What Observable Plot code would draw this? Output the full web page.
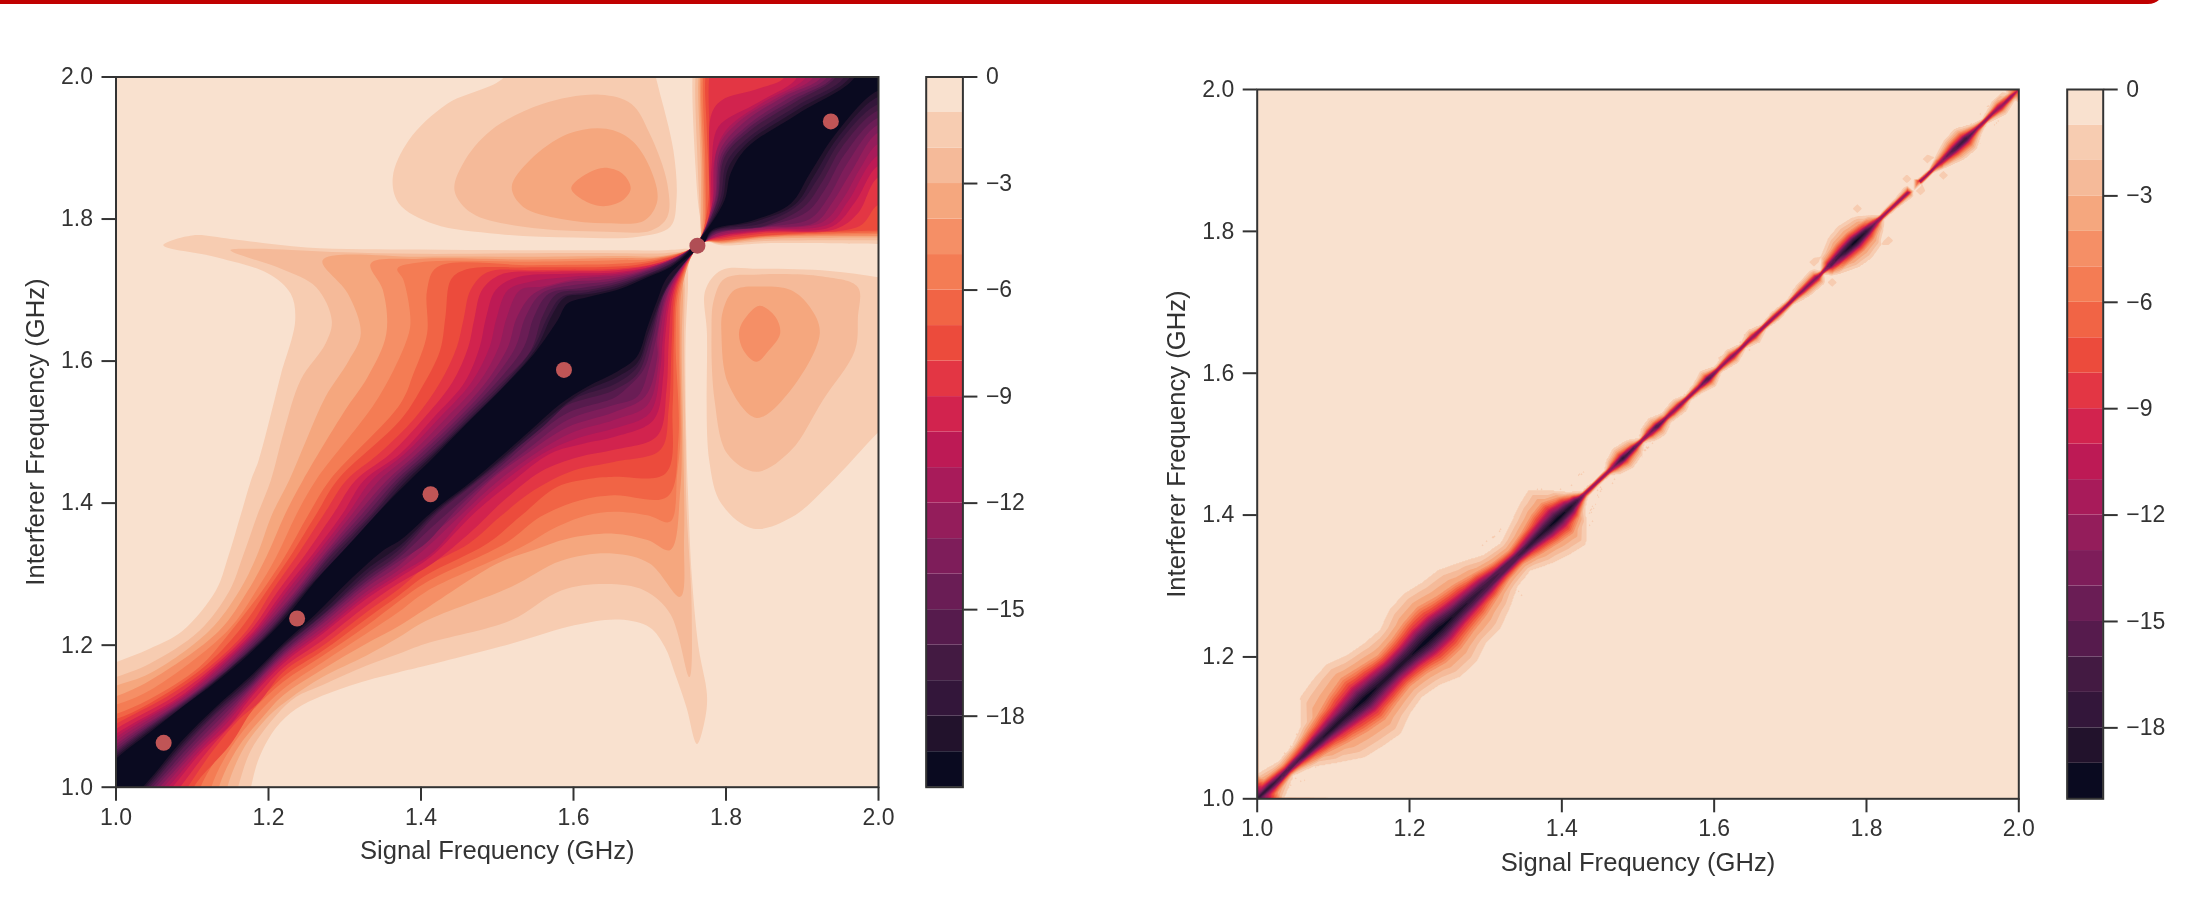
<!DOCTYPE html>
<html><head><meta charset="utf-8">
<script src="https://cdn.jsdelivr.net/npm/d3@7"></script>
<script src="https://cdn.jsdelivr.net/npm/@observablehq/plot@0.6"></script>
<style>
html,body{margin:0;padding:0;background:#fff;width:2210px;height:921px;overflow:hidden;position:relative}
.p{position:absolute;filter:blur(.45px)}
.p svg{overflow:visible;background:transparent}
#bar{position:absolute;left:-40px;top:-30px;width:2205px;height:34px;background:#c00000;border-radius:18px}
</style></head><body><div id="bar"></div>
<script>
const bandColors=["#0a0a20","#22122c","#33163a","#431a42","#561b4d","#6a1d55","#7e1d5a","#941d5b","#a81b5a","#bd1a55","#d2234e","#e33644","#ec4b3c","#f16445","#f47c54","#f58f66","#f5a77e","#f5ba99","#f7ccb1","#f9e1cf"];
const thresholds=[-20,-19,-18,-17,-16,-15,-14,-13,-12,-11,-10,-9,-8,-7,-6,-5,-4,-3,-2,-1];
const barTicks=[0,-3,-6,-9,-12,-15,-18];
const freqTicks=[1,1.2,1.4,1.6,1.8,2];
const toneCentres=[[1.0625,1.0625],[1.2375,1.2375],[1.4125,1.4125],[1.5875,1.5875],[1.9375,1.9375]];
const crossingTone=[[1.7625,1.7625]];

// left panel: outlines of the regions deeper than each level (x GHz, y GHz)
const NU=[[1.754,1.758],[1.766,1.772]], NL=[[1.772,1.768],[1.758,1.754]], C1=[.96,.96], C2=[2.04,2.04];
const line1=[[1,1.176],[1.044,1.195],[1.087,1.22],[1.131,1.277],[1.147,1.324],[1.164,1.385],[1.177,1.432],[1.187,1.46],[1.209,1.55],[1.2165,1.582],[1.235,1.657],[1.229,1.695],[1.2,1.723],[1.133,1.746],[1.062,1.763],[1.1,1.777],[1.15,1.772],[1.25,1.76],[1.4,1.757],[1.548,1.756],[1.66,1.756],[1.72,1.756],[1.748,1.758],...NU,[1.768,1.789],[1.764,1.817],[1.76,1.873],[1.756,2],[1.76,2.04],C2,[2.04,1.765],[2,1.765],[1.852,1.766],[1.794,1.763],...NL,[1.752,1.742],[1.75,1.7],[1.747,1.629],[1.748,1.488],[1.75,1.418],[1.755,1.3],[1.764,1.197],[1.775,1.131],[1.773,1.099],[1.762,1.061],[1.748,1.113],[1.733,1.16],[1.72,1.197],[1.7,1.225],[1.66,1.236],[1.601,1.228],[1.518,1.202],[1.406,1.171],[1.371,1.162],[1.328,1.15],[1.271,1.129],[1.236,1.11],[1.21,1.084],[1.188,1.042],[1.177,1],[1.17,.96],C1,[.96,1.16]];
const line2=[[1,1.155],[1.044,1.174],[1.109,1.22],[1.149,1.277],[1.166,1.324],[1.186,1.385],[1.203,1.432],[1.22,1.5],[1.242,1.573],[1.275,1.625],[1.283,1.657],[1.2625,1.704],[1.2165,1.73],[1.15,1.756],[1.183,1.758],[1.283,1.7535],[1.4,1.751],[1.548,1.752],[1.657,1.752],[1.72,1.752],...NU,[1.766,1.8],[1.763,1.873],[1.76,2],[1.765,2.04],C2,[2.04,1.77],[2,1.77],[1.852,1.769],[1.794,1.765],...NL,[1.747,1.737],[1.746,1.7],[1.745,1.63],[1.747,1.489],[1.748,1.4],[1.755,1.25],[1.752,1.155],[1.727,1.244],[1.693,1.277],[1.643,1.286],[1.584,1.277],[1.518,1.235],[1.406,1.202],[1.371,1.188],[1.328,1.171],[1.271,1.144],[1.236,1.127],[1.21,1.101],[1.177,1.052],[1.16,1],[1.15,.96],C1,[.96,1.14]];
const line3=[[1,1.143],[1.044,1.16],[1.122,1.22],[1.162,1.277],[1.184,1.324],[1.205,1.385],[1.227,1.432],[1.25,1.49],[1.275,1.55],[1.305,1.6],[1.321,1.6385],[1.304,1.695],[1.271,1.742],[1.4,1.747],[1.548,1.747],[1.657,1.748],[1.715,1.748],...NU,[1.767,1.79],[1.767,1.873],[1.764,2],[1.77,2.04],C2,[2.04,1.774],[2,1.774],[1.852,1.772],[1.794,1.766],...NL,[1.744,1.735],[1.744,1.7],[1.742,1.63],[1.744,1.489],[1.745,1.35],[1.74,1.268],[1.7,1.315],[1.651,1.329],[1.584,1.319],[1.518,1.282],[1.406,1.234],[1.371,1.211],[1.328,1.185],[1.271,1.155],[1.227,1.124],[1.201,1.101],[1.168,1.056],[1.146,1],[1.14,.96],C1,[.96,1.13]];
const line4=[[1,1.128],[1.044,1.15],[1.135,1.22],[1.173,1.277],[1.197,1.324],[1.222,1.385],[1.245,1.432],[1.3,1.53],[1.33,1.5775],[1.3545,1.6385],[1.35,1.7],[1.334,1.737],[1.4,1.744],[1.548,1.743],[1.657,1.745],[1.71,1.746],...NU,[1.769,1.79],[1.769,1.873],[1.766,2],[1.77,2.04],C2,[2.04,1.776],[2,1.776],[1.852,1.774],[1.794,1.767],...NL,[1.742,1.7],[1.74,1.63],[1.742,1.489],[1.74,1.418],[1.727,1.334],[1.697,1.348],[1.653,1.357],[1.592,1.35],[1.548,1.334],[1.5,1.315],[1.406,1.251],[1.371,1.227],[1.328,1.202],[1.271,1.166],[1.219,1.129],[1.192,1.098],[1.16,1.056],[1.135,1],[1.13,.96],C1,[.96,1.115]];
const line5=[[1,1.116],[1.044,1.136],[1.146,1.22],[1.184,1.277],[1.21,1.324],[1.237,1.385],[1.262,1.432],[1.345,1.55],[1.384,1.639],[1.386,1.662],[1.377,1.714],[1.369,1.73],[1.4,1.739],[1.548,1.74],[1.657,1.742],[1.705,1.744],...NU,[1.771,1.79],[1.771,1.873],[1.768,2],[1.775,2.04],C2,[2.04,1.779],[2,1.779],[1.852,1.775],[1.794,1.768],...NL,[1.74,1.7],[1.738,1.63],[1.74,1.489],[1.736,1.442],[1.727,1.374],[1.697,1.383],[1.653,1.388],[1.618,1.383],[1.579,1.367],[1.53,1.337],[1.406,1.275],[1.371,1.247],[1.328,1.216],[1.271,1.176],[1.219,1.138],[1.184,1.101],[1.151,1.056],[1.125,1],[1.12,.96],C1,[.96,1.105]];
const line6=[[1,1.103],[1.044,1.124],[1.109,1.169],[1.151,1.22],[1.192,1.277],[1.221,1.324],[1.253,1.385],[1.28,1.432],[1.373,1.54],[1.39,1.582],[1.408,1.639],[1.408,1.7],[1.421,1.732],[1.548,1.735],[1.657,1.737],[1.705,1.742],...NU,[1.772,1.79],[1.773,1.873],[1.77,2],[1.775,2.04],C2,[2.04,1.781],[2,1.781],[1.852,1.776],[1.794,1.769],...NL,[1.738,1.7],[1.734,1.63],[1.7375,1.489],[1.723,1.409],[1.653,1.411],[1.609,1.404],[1.557,1.381],[1.513,1.345],[1.406,1.288],[1.371,1.262],[1.328,1.227],[1.271,1.185],[1.219,1.148],[1.175,1.103],[1.142,1.056],[1.111,1],[1.105,.96],C1,[.96,1.09]];
const line7=[[1,1.096],[1.044,1.118],[1.115,1.169],[1.161,1.22],[1.198,1.277],[1.228,1.324],[1.263,1.385],[1.29,1.432],[1.373,1.517],[1.399,1.559],[1.425,1.615],[1.432,1.662],[1.439,1.714],[1.456,1.728],[1.548,1.732],[1.657,1.733],[1.705,1.74],...NU,[1.777,1.826],[1.775,1.92],[1.773,2],[1.78,2.04],C2,[2.04,1.784],[2,1.784],[1.852,1.777],[1.794,1.77],...NL,[1.736,1.7],[1.7316,1.63],[1.73,1.535],[1.721,1.442],[1.653,1.437],[1.627,1.435],[1.579,1.423],[1.53,1.381],[1.487,1.343],[1.406,1.298],[1.371,1.27],[1.328,1.237],[1.271,1.192],[1.219,1.155],[1.18,1.11],[1.15,1.06],[1.102,1],[1.09,.96],C1,[.96,1.085]];
const line8=[[1,1.089],[1.066,1.127],[1.122,1.169],[1.171,1.22],[1.205,1.277],[1.236,1.324],[1.273,1.385],[1.302,1.432],[1.345,1.47],[1.392,1.52],[1.425,1.57],[1.447,1.62],[1.456,1.66],[1.465,1.7],[1.487,1.725],[1.548,1.728],[1.657,1.73],[1.71,1.738],...NU,[1.775,1.79],[1.779,1.85],[1.778,1.93],[1.778,2],[1.785,2.04],C2,[2.04,1.82],[2,1.82],[1.975,1.79],[1.852,1.78],[1.794,1.772],...NL,[1.734,1.7],[1.729,1.63],[1.725,1.535],[1.714,1.475],[1.653,1.458],[1.6,1.446],[1.548,1.418],[1.504,1.381],[1.463,1.343],[1.406,1.31],[1.371,1.279],[1.328,1.246],[1.271,1.199],[1.219,1.162],[1.188,1.12],[1.162,1.096],[1.129,1.054],[1.094,1],[1.07,.96],C1,[.96,1.06]];
const line9=[[1,1.082],[1.075,1.127],[1.127,1.169],[1.176,1.22],[1.213,1.277],[1.246,1.324],[1.285,1.385],[1.314,1.432],[1.36,1.47],[1.404,1.52],[1.441,1.57],[1.462,1.62],[1.47,1.66],[1.48,1.7],[1.505,1.722],[1.57,1.726],[1.657,1.728],[1.712,1.738],...NU,[1.777,1.79],[1.778,1.873],[1.781,1.948],[1.794,1.967],[1.844,1.984],[1.877,2],[1.88,2.04],C2,[2.04,1.859],[2,1.859],[1.973,1.808],[1.944,1.786],[1.852,1.782],[1.794,1.774],...NL,[1.732,1.7],[1.725,1.63],[1.722,1.56],[1.71,1.495],[1.653,1.475],[1.607,1.465],[1.558,1.445],[1.51,1.405],[1.466,1.36],[1.415,1.315],[1.371,1.287],[1.328,1.255],[1.271,1.207],[1.219,1.168],[1.18,1.122],[1.155,1.092],[1.122,1.053],[1.084,1],[1.055,.96],C1,[.96,1.05]];
const line10=[[1,1.075],[1.083,1.127],[1.131,1.169],[1.181,1.22],[1.22,1.277],[1.255,1.324],[1.297,1.385],[1.325,1.432],[1.373,1.47],[1.416,1.52],[1.457,1.57],[1.477,1.62],[1.485,1.66],[1.498,1.7],[1.526,1.718],[1.592,1.723],[1.657,1.725],[1.715,1.737],...NU,[1.779,1.8],[1.781,1.873],[1.79,1.93],[1.835,1.96],[1.885,1.99],[1.893,2],[1.9,2.04],C2,[2.04,1.875],[2,1.875],[1.97,1.825],[1.94,1.79],[1.852,1.783],[1.794,1.776],...NL,[1.73,1.7],[1.72,1.63],[1.718,1.582],[1.705,1.517],[1.653,1.493],[1.614,1.484],[1.57,1.47],[1.517,1.428],[1.469,1.385],[1.423,1.334],[1.406,1.319],[1.371,1.295],[1.328,1.265],[1.271,1.216],[1.219,1.174],[1.175,1.124],[1.149,1.087],[1.114,1.052],[1.074,1],[1.04,.96],C1,[.96,1.04]];
const line11=[[1,1.07],[1.087,1.127],[1.135,1.169],[1.184,1.22],[1.225,1.277],[1.26,1.324],[1.304,1.385],[1.335,1.432],[1.379,1.47],[1.424,1.52],[1.466,1.57],[1.49,1.62],[1.499,1.66],[1.514,1.7],[1.545,1.712],[1.6,1.719],[1.665,1.724],[1.717,1.738],...NU,[1.781,1.81],[1.785,1.885],[1.8,1.925],[1.85,1.965],[1.905,2],[1.91,2.04],C2,[2.04,1.89],[2,1.89],[1.96,1.825],[1.935,1.793],[1.852,1.785],[1.794,1.777],...NL,[1.728,1.7],[1.717,1.63],[1.714,1.59],[1.7,1.527],[1.653,1.505],[1.607,1.492],[1.56,1.47],[1.508,1.43],[1.461,1.385],[1.415,1.33],[1.371,1.3],[1.328,1.27],[1.271,1.22],[1.219,1.178],[1.175,1.128],[1.145,1.09],[1.11,1.052],[1.068,1],[1.03,.96],C1,[.96,1.03]];
const line12=[[1,1.065],[1.09,1.127],[1.138,1.169],[1.187,1.22],[1.23,1.277],[1.265,1.324],[1.31,1.385],[1.345,1.432],[1.387,1.47],[1.433,1.52],[1.476,1.57],[1.502,1.62],[1.512,1.66],[1.53,1.7],[1.56,1.705],[1.6,1.715],[1.672,1.723],[1.72,1.739],...NU,[1.783,1.826],[1.789,1.9],[1.819,1.939],[1.869,1.972],[1.915,2],[1.92,2.04],C2,[2.04,1.906],[2,1.906],[1.977,1.873],[1.952,1.826],[1.927,1.796],[1.852,1.786],[1.794,1.779],...NL,[1.726,1.7],[1.713,1.63],[1.712,1.6],[1.697,1.538],[1.653,1.517],[1.6,1.5],[1.55,1.47],[1.5,1.43],[1.452,1.383],[1.407,1.337],[1.371,1.306],[1.328,1.275],[1.271,1.225],[1.219,1.182],[1.175,1.132],[1.142,1.092],[1.105,1.052],[1.062,1],[1.025,.96],C1,[.96,1.025]];
const line13=[[1,1.06],[1.094,1.127],[1.142,1.169],[1.19,1.22],[1.236,1.277],[1.27,1.324],[1.317,1.385],[1.355,1.432],[1.395,1.47],[1.443,1.52],[1.485,1.57],[1.514,1.62],[1.526,1.662],[1.548,1.695],[1.592,1.711],[1.635,1.714],[1.679,1.723],[1.723,1.74],...NU,[1.785,1.826],[1.792,1.896],[1.822,1.935],[1.875,1.972],[1.925,2],[1.93,2.04],C2,[2.04,1.922],[2,1.922],[1.965,1.868],[1.94,1.824],[1.917,1.795],[1.852,1.788],[1.79,1.78],...NL,[1.725,1.7],[1.71,1.63],[1.71,1.606],[1.694,1.55],[1.653,1.528],[1.592,1.507],[1.539,1.47],[1.491,1.432],[1.443,1.381],[1.399,1.341],[1.371,1.312],[1.328,1.281],[1.271,1.23],[1.219,1.185],[1.175,1.136],[1.14,1.094],[1.101,1.052],[1.057,1],[1.02,.96],C1,[.96,1.02]];
const line14=[[1,1.056],[1.096,1.127],[1.145,1.169],[1.193,1.22],[1.239,1.277],[1.273,1.324],[1.323,1.385],[1.361,1.432],[1.4,1.47],[1.449,1.52],[1.492,1.57],[1.524,1.62],[1.537,1.662],[1.558,1.695],[1.6,1.707],[1.645,1.712],[1.685,1.723],[1.724,1.739],...NU,[1.786,1.826],[1.794,1.892],[1.826,1.93],[1.882,1.97],[1.933,2],[1.94,2.04],C2,[2.04,1.933],[2,1.933],[1.96,1.88],[1.934,1.83],[1.91,1.8],[1.852,1.789],[1.788,1.78],...NL,[1.723,1.7],[1.708,1.63],[1.7,1.594],[1.684,1.55],[1.653,1.538],[1.592,1.517],[1.545,1.48],[1.497,1.44],[1.45,1.395],[1.406,1.343],[1.371,1.318],[1.328,1.286],[1.271,1.234],[1.219,1.188],[1.175,1.139],[1.137,1.097],[1.096,1.052],[1.052,1],[1.015,.96],C1,[.96,1.015]];
const line15=[[1,1.052],[1.098,1.127],[1.147,1.169],[1.197,1.22],[1.242,1.277],[1.277,1.324],[1.329,1.385],[1.367,1.432],[1.406,1.47],[1.454,1.52],[1.499,1.57],[1.535,1.62],[1.548,1.662],[1.568,1.695],[1.61,1.703],[1.65,1.71],[1.69,1.723],[1.725,1.738],...NU,[1.788,1.826],[1.796,1.889],[1.829,1.928],[1.888,1.968],[1.94,2],[1.945,2.04],C2,[2.04,1.943],[2,1.943],[1.955,1.89],[1.93,1.842],[1.906,1.81],[1.852,1.79],[1.786,1.781],...NL,[1.721,1.7],[1.704,1.63],[1.692,1.588],[1.668,1.56],[1.653,1.548],[1.592,1.527],[1.55,1.494],[1.503,1.45],[1.455,1.405],[1.413,1.365],[1.371,1.323],[1.328,1.29],[1.271,1.238],[1.219,1.191],[1.175,1.142],[1.134,1.1],[1.092,1.053],[1.048,1],[1.01,.96],C1,[.96,1.01]];
const line16=[[1,1.049],[1.1,1.127],[1.15,1.169],[1.2,1.22],[1.245,1.277],[1.28,1.324],[1.335,1.385],[1.372,1.432],[1.417,1.475],[1.46,1.521],[1.504,1.568],[1.544,1.615],[1.559,1.662],[1.579,1.695],[1.618,1.7],[1.657,1.709],[1.697,1.723],[1.727,1.737],...NU,[1.789,1.826],[1.798,1.887],[1.832,1.925],[1.894,1.967],[1.944,2],[1.95,2.04],C2,[2.04,1.953],[2,1.953],[1.952,1.901],[1.927,1.854],[1.902,1.817],[1.852,1.791],[1.785,1.782],...NL,[1.72,1.7],[1.701,1.63],[1.684,1.582],[1.653,1.559],[1.592,1.538],[1.557,1.51],[1.509,1.46],[1.465,1.423],[1.421,1.385],[1.371,1.328],[1.328,1.295],[1.271,1.242],[1.219,1.195],[1.175,1.145],[1.131,1.103],[1.087,1.054],[1.044,1],[1.005,.96],C1,[.96,1.005]];
const line17=[[1,1.046],[1.102,1.127],[1.151,1.169],[1.202,1.22],[1.247,1.277],[1.285,1.324],[1.338,1.385],[1.376,1.432],[1.415,1.47],[1.463,1.52],[1.51,1.57],[1.548,1.62],[1.566,1.662],[1.584,1.69],[1.618,1.697],[1.657,1.706],[1.697,1.722],[1.727,1.736],...NU,[1.792,1.826],[1.801,1.88],[1.83,1.915],[1.894,1.96],[1.955,2],[1.96,2.04],C2,[2.04,1.962],[2,1.962],[1.95,1.91],[1.92,1.856],[1.895,1.82],[1.848,1.794],[1.784,1.783],...NL,[1.721,1.7],[1.699,1.635],[1.684,1.592],[1.655,1.568],[1.6,1.546],[1.56,1.508],[1.508,1.462],[1.464,1.424],[1.42,1.387],[1.371,1.334],[1.328,1.3],[1.271,1.243],[1.219,1.197],[1.175,1.148],[1.131,1.106],[1.087,1.058],[1.041,1],[1.002,.96],C1,[.96,1.002]];
const line18=[[1,1.043],[1.104,1.127],[1.152,1.169],[1.204,1.22],[1.249,1.277],[1.29,1.324],[1.342,1.385],[1.381,1.432],[1.418,1.47],[1.466,1.52],[1.513,1.57],[1.552,1.62],[1.572,1.665],[1.589,1.69],[1.618,1.694],[1.657,1.703],[1.697,1.72],[1.727,1.734],...NU,[1.795,1.826],[1.803,1.872],[1.829,1.908],[1.894,1.954],[1.963,2],[1.97,2.04],C2,[2.04,1.972],[2,1.972],[1.947,1.915],[1.915,1.86],[1.89,1.82],[1.84,1.797],[1.782,1.783],...NL,[1.722,1.705],[1.698,1.64],[1.684,1.598],[1.656,1.577],[1.61,1.555],[1.556,1.51],[1.506,1.463],[1.462,1.424],[1.418,1.388],[1.372,1.34],[1.328,1.306],[1.271,1.248],[1.219,1.199],[1.175,1.152],[1.131,1.11],[1.087,1.062],[1.038,1],[1,.96],C1,[.96,1]];
const line19=[[1,1.04],[1.044,1.077],[1.087,1.113],[1.131,1.148],[1.175,1.188],[1.219,1.2345],[1.262,1.291],[1.306,1.342],[1.35,1.394],[1.385,1.432],[1.417,1.465],[1.46,1.512],[1.504,1.559],[1.548,1.61],[1.579,1.657],[1.592,1.681],[1.618,1.69],[1.657,1.7],[1.697,1.718],[1.727,1.732],[1.749,1.751],...NU,[1.798,1.826],[1.806,1.864],[1.827,1.9],[1.894,1.948],[1.969,2],[1.975,2.04],C2,[2.04,1.981],[2,1.981],[1.944,1.92],[1.91,1.864],[1.885,1.822],[1.835,1.798],[1.781,1.784],...NL,[1.723,1.718],[1.71,1.686],[1.697,1.648],[1.683,1.606],[1.657,1.585],[1.618,1.564],[1.583,1.54],[1.548,1.507],[1.504,1.465],[1.46,1.425],[1.417,1.39],[1.373,1.348],[1.35,1.333],[1.306,1.291],[1.262,1.244],[1.219,1.202],[1.175,1.155],[1.131,1.113],[1.087,1.066],[1.035,1],[.995,.96],C1,[.96,.995]];
const upperBlob1=[[1.509,2],[1.434,1.962],[1.384,1.911],[1.363,1.859],[1.371,1.822],[1.417,1.793],[1.501,1.779],[1.601,1.774],[1.685,1.775],[1.727,1.789],[1.735,1.826],[1.731,1.897],[1.708,2],[1.7,2.04],[1.52,2.04]];
const upperBlob2=[[1.635,1.975],[1.559,1.962],[1.492,1.925],[1.455,1.878],[1.444,1.84],[1.467,1.808],[1.534,1.789],[1.643,1.782],[1.702,1.784],[1.723,1.803],[1.723,1.85],[1.7,1.92],[1.676,1.962]];
const upperBlob3=[[1.643,1.927],[1.593,1.92],[1.543,1.883],[1.519,1.845],[1.534,1.817],[1.584,1.8],[1.643,1.794],[1.693,1.798],[1.71,1.826],[1.7,1.873],[1.676,1.911]];
const upperBlob4=[[1.639,1.872],[1.61,1.859],[1.597,1.843],[1.614,1.826],[1.639,1.818],[1.664,1.826],[1.675,1.843],[1.664,1.864]];
const rightBlob1=[[2,1.718],[1.936,1.727],[1.844,1.73],[1.794,1.728],[1.773,1.7],[1.775,1.639],[1.778,1.46],[1.794,1.399],[1.836,1.364],[1.886,1.38],[1.936,1.427],[2,1.5],[2.04,1.54],[2.04,1.71]];
const rightBlob2=[[1.844,1.722],[1.798,1.716],[1.784,1.686],[1.781,1.639],[1.785,1.545],[1.802,1.469],[1.84,1.444],[1.885,1.474],[1.927,1.545],[1.969,1.615],[1.973,1.662],[1.973,1.704],[1.927,1.719]];
const rightBlob3=[[1.848,1.705],[1.811,1.7],[1.796,1.671],[1.794,1.639],[1.803,1.568],[1.84,1.52],[1.881,1.554],[1.923,1.639],[1.91,1.676],[1.885,1.7]];
const rightBlob4=[[1.844,1.678],[1.823,1.657],[1.817,1.639],[1.823,1.615],[1.84,1.599],[1.856,1.615],[1.871,1.639],[1.865,1.662]];
const regions=[[-1,upperBlob1],[-1,rightBlob1],[-1,line1],[-2,upperBlob2],[-2,rightBlob2],[-2,line2],[-3,upperBlob3],[-3,rightBlob3],[-3,line3],[-4,upperBlob4],[-4,rightBlob4],[-4,line4],[-5,line5],[-6,line6],[-7,line7],[-8,line8],[-9,line9],[-10,line10],[-11,line11],[-12,line12],[-13,line13],[-14,line14],[-15,line15],[-16,line16],[-17,line17],[-18,line18],[-19,line19]];
const leftOutlines=regions.flatMap(([level,pts],id)=>pts.map(([x,y])=>({x,y,id,band:level-0.5})));

// right panel: along the diagonal, centre depth and half widths (1/1000 GHz) at depths -1,-4,-9,-15
const sectionS=[1.018,1.04,1.06,1.08,1.1,1.12,1.14,1.16,1.18,1.2,1.22,1.24,1.26,1.28,1.3,1.32,1.34,1.36,1.38,1.395,1.41,1.42,1.43,1.445,1.46,1.468,1.48,1.495,1.505,1.515,1.525,1.537,1.545,1.555,1.565,1.58,1.592,1.605,1.624,1.638,1.652,1.665,1.68,1.7,1.717,1.735,1.742,1.752,1.77,1.785,1.8,1.812,1.82,1.84,1.855,1.87,1.885,1.897,1.915,1.93,1.945,1.955,1.975,1.99];
const sectionCore=[-18,-15,-17,-18,-19,-19,-20,-19,-19,-19,-20,-20,-19,-18,-17,-16,-16,-18,-19,-20,-19,-17,-13,-13,-13,-14,-18,-15,-13,-14,-16,-14,-13,-14,-13,-14,-16,-13,-14,-13,-13,-13,-13,-13,-14,-14,-12,-15,-18,-20,-18,-14,-13,-13,-13,-13,-13,-13,-16,-17,-14,-13,-13,-13];
const upper1=[17,12,14,22,43,47,49,42,39,38,46,48,44,42,33,23,20,27,35,39,24,12,3,3,3.5,9,13,10,3,9,11,6,7,8,3.5,6,10,4,8,3,8,3,5,3.5,8,9,2.5,12,20,22,19,10,3,4,6,3,2.5,7,13,14,6,3,9,5];
const upper4=[9,7,10,15,20,26,30,26,22,24,28,30,25,22,17,12,10,14,20,22,15,8,2.5,2.4,2.5,5,8,5,2.4,5,6,3,4,4,2.5,3.5,6,2.5,4.5,2.4,4,2.4,3,2.4,4,5,2,7,11,12,10,5,2.4,2.5,3,2.4,2,4,8,9,3.5,2.4,5,3];
const upper9=[5,3.5,5,8,11,14,17,15,13,14,17,17,14,12,10,6,5,8,11,13,9,5,1.6,1.6,1.6,2.5,4,2.5,1.6,2.5,3,1.6,2,2,1.6,1.6,3,1.6,2.2,1.6,2,1.6,1.6,1.6,2,2.5,1.4,3.5,6,7,5,2.5,1.6,1.6,1.6,1.6,1.4,2,4,4.5,1.7,1.6,2.5,1.6];
const upper15=[2,1.5,2,4,5,6,8,7,6,7,9,9,6,5,4,3,2,3,5,6,4,2,0,0,0,0,2,1,0,0,1.5,0,0,0,0,0,1.5,0,0,0,0,0,0,0,0,0,0,1.5,3,4,2.5,0,0,0,0,0,0,0,1.5,2,0,0,0,0];
const lower1=[17,7,14,28,41,45,48,40,36,39,47,47,40,39,31,21,18,27,33,36,22,10,4,3,3.5,9,13,10,3,9,11,6,7,8,3.5,6,10,4,8,3,8,3,5,3.5,8,9,2.5,12,20,22,19,10,3,4,6,3,2.5,7,13,14,6,3,9,5];
const lower4=[9,5,9,14,20,25,28,24,21,23,28,28,24,21,16,11,9,14,18,20,13,7,3,2.4,2.5,5,8,5,2.4,5,6,3,4,4,2.5,3.5,6,2.5,4.5,2.4,4,2.4,3,2.4,4,5,2,7,11,12,10,5,2.4,2.5,3,2.4,2,4,8,9,3.5,2.4,5,3];
const lower9=[5,3,4.5,7,10,13,16,14,12,13,16,16,13,11,9,6,5,7,10,11,8,4,1.6,1.6,1.6,2.5,4,2.5,1.6,2.5,3,1.6,2,2,1.6,1.6,3,1.6,2.2,1.6,2,1.6,1.6,1.6,2,2.5,1.4,3.5,6,7,5,2.5,1.6,1.6,1.6,1.6,1.4,2,4,4.5,1.7,1.6,2.5,1.6];
const lower15=[2,1.5,2,3,4,6,8,6,5,6,8,8,6,5,4,3,2,3,5,5,4,2,0,0,0,0,2,1,0,0,1.5,0,0,0,0,0,1.5,0,0,0,0,0,0,0,0,0,0,1.5,3,4,2.5,0,0,0,0,0,0,0,1.5,2,0,0,0,0];
const farField=[[1,2],[2,1],[1,1.5],[1.5,1],[1.5,2],[2,1.5],[1.25,1.65],[1.65,1.25],[1.6,1.9],[1.9,1.6],[1,1.25],[1.25,1],[1.75,2],[2,1.75],[1.98,2],[2,1.98]];
const wisps=[[1.731,1.7565],[1.788,1.832],[1.829,1.787],[1.755,1.728],[1.88,1.902],[1.901,1.879],[1.853,1.874],[1.871,1.857]];
const rightSamples=[{x:1,y:1,v:-18},{x:2,y:2,v:-10}];
farField.forEach(([x,y])=>rightSamples.push({x,y,v:-0.3}));
wisps.forEach(([x,y])=>{rightSamples.push({x,y,v:-1.9});[[.009,0],[-.009,0],[0,.009],[0,-.009]].forEach(([a,b])=>rightSamples.push({x:x+a,y:y+b,v:-0.6}))});
sectionS.forEach((s,i)=>{
  rightSamples.push({x:s,y:s,v:sectionCore[i]});
  [[-1,upper1,1],[-4,upper4,1],[-9,upper9,1],[-15,upper15,1],[-1,lower1,-1],[-4,lower4,-1],[-9,lower9,-1],[-15,lower15,-1]].forEach(([v,a,sign])=>{
    const d=a[i]/1000; if(d>0) rightSamples.push({x:s-sign*d,y:s+sign*d,v});
  });
});

const font="'Liberation Sans',Arial,sans-serif", ink="#333";
const colorScale={type:"threshold",domain:thresholds.slice(1),range:bandColors};
const base={style:{fontFamily:font,color:ink,background:"transparent"}};
const xTitle=["Signal Frequency (GHz)"], yTitle=["Interferer Frequency (GHz)"];
function panel(fieldMarks,left,top,m){
  const marks=[
    ...fieldMarks,
    Plot.axisX(freqTicks,{tickSize:14,tickPadding:7,tickFormat:".1f",fontSize:23,label:null,strokeWidth:2,stroke:ink,color:ink}),
    Plot.axisY(freqTicks,{tickSize:14,tickPadding:9,tickFormat:".1f",fontSize:23,label:null,strokeWidth:2,stroke:ink,color:ink}),
    Plot.text(xTitle,{text:d=>d,frameAnchor:"bottom",dy:64,lineAnchor:"middle",fontSize:25.6,fill:ink}),
    Plot.text(yTitle,{text:d=>d,frameAnchor:"left",dx:-80,rotate:-90,textAnchor:"middle",lineAnchor:"middle",fontSize:25.6,fill:ink}),
    Plot.frame({stroke:ink,strokeWidth:2})
  ];
  place(Plot.plot({...base,width:m.w,height:m.h,marginLeft:m.l,marginRight:m.r,marginTop:m.t,marginBottom:m.b,
    x:{domain:[1,2],label:null},y:{domain:[1,2],label:null},color:colorScale,marks}),left,top);
}
function bar(left,top,m){
  const rows=thresholds.map(v=>({v}));
  place(Plot.plot({...base,width:m.w,height:m.h,marginLeft:m.l,marginRight:m.r,marginTop:m.t,marginBottom:m.b,
    x:{domain:[0,1],axis:null},y:{domain:[-20,0]},color:colorScale,marks:[
    Plot.rect(rows,{x1:0,x2:1,y1:d=>d.v,y2:d=>d.v+1,fill:"v"}),
    Plot.axisY(barTicks,{anchor:"right",tickSize:14,tickPadding:9,fontSize:23,label:null,tickFormat:d=>d3.format("d")(d),strokeWidth:2,stroke:ink,color:ink}),
    Plot.frame({stroke:ink,strokeWidth:2})]}),left,top);
}
function place(el,left,top){const d=document.createElement("div");d.className="p";d.style.left=left+"px";d.style.top=top+"px";d.appendChild(el);document.body.appendChild(d);}
panel([
  Plot.frame({fill:bandColors[19]}),
  Plot.line(leftOutlines,{x:"x",y:"y",z:"id",fill:"band",stroke:"none",curve:"catmull-rom-closed",clip:"frame"}),
  Plot.dot(toneCentres,{x:d=>d[0],y:d=>d[1],r:8,fill:"#ca5a5a",fillOpacity:.95}),
  Plot.dot(crossingTone,{x:d=>d[0],y:d=>d[1],r:8,fill:"#b04e55"})
],0,0,{w:900,h:900,l:115.5,r:22,t:76.5,b:113.3});
panel([Plot.contour(rightSamples,{x:"x",y:"y",fill:"v",interpolate:"barycentric",thresholds,pixelSize:1})],1150,0,{w:900,h:900,l:106.7,r:31.7,t:89,b:101.7});
bar(900,0,{w:120,h:900,l:25.7,r:57.6,t:76.5,b:113.3});
bar(2040,0,{w:120,h:900,l:26.7,r:57.3,t:89,b:101.7});
</script></body></html>
